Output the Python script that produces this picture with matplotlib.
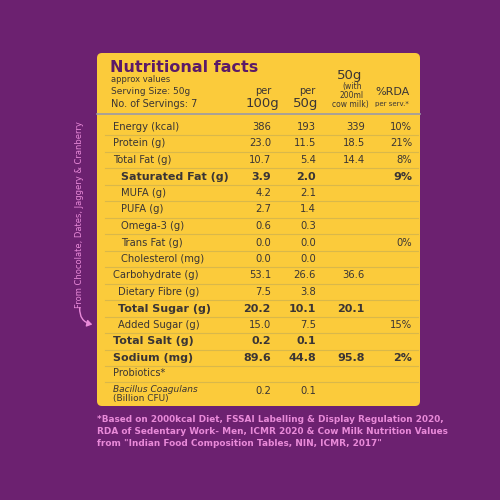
import matplotlib
matplotlib.use("Agg")
import matplotlib.pyplot as plt
from matplotlib.patches import FancyBboxPatch, FancyArrowPatch

labels = ["Energy (kcal)", "Protein (g)", "Total Fat (g)", "Saturated Fat (g)", "MUFA (g)",
          "PUFA (g)", "Omega-3 (g)", "Trans Fat (g)", "Cholesterol (mg)", "Carbohydrate (g)",
          "Dietary Fibre (g)", "Total Sugar (g)", "Added Sugar (g)", "Total Salt (g)", "Sodium (mg)"]
per100 = ["386", "23.0", "10.7", "3.9", "4.2", "2.7", "0.6", "0.0", "0.0", "53.1", "7.5", "20.2", "15.0", "0.2", "89.6"]
per50 = ["193", "11.5", "5.4", "2.0", "2.1", "1.4", "0.3", "0.0", "0.0", "26.6", "3.8", "10.1", "7.5", "0.1", "44.8"]
milk = ["339", "18.5", "14.4", "", "", "", "", "", "", "36.6", "", "20.1", "", "", "95.8"]
rda = ["10%", "21%", "8%", "9%", "", "", "", "0%", "", "", "", "", "15%", "", "2%"]
bold = [False, False, False, True, False, False, False, False, False, False, False, True, False, True, True]
indent = [0, 0, 0, 8, 8, 8, 8, 8, 8, 0, 5, 5, 5, 0, 0]

PURPLE = "#6C2170"
YELLOW = "#FBCB3B"
DARK = "#3A3535"
TITLE = "#5B1A68"
PINK = "#E98AD9"

fig = plt.figure(figsize=(5, 5), dpi=100)
fig.patch.set_facecolor(PURPLE)
ax = fig.add_axes([0, 0, 1, 1])
ax.set_xlim(0, 500); ax.set_ylim(500, 0); ax.axis("off")
ax.set_facecolor(PURPLE)
FF = "DejaVu Sans"

ax.add_patch(FancyBboxPatch((97, 53), 323, 353, boxstyle="round,pad=0,rounding_size=5",
                            fc=YELLOW, ec="none"))
ax.text(110, 68, "Nutritional facts", fontsize=11.5, fontweight="bold", color=TITLE, va="center", family=FF)
ax.text(111, 80, "approx values", fontsize=6, color=DARK, va="center", family=FF)
ax.text(111, 91, "Serving Size: 50g", fontsize=6.5, color=DARK, va="center", family=FF)
ax.text(111, 104, "No. of Servings: 7", fontsize=7, color=DARK, va="center", family=FF)
ax.text(263, 91, "per", fontsize=7, color=DARK, ha="center", va="center", family=FF)
ax.text(262, 104, "100g", fontsize=9.5, color=DARK, ha="center", va="center", family=FF)
ax.text(307, 91, "per", fontsize=7, color=DARK, ha="center", va="center", family=FF)
ax.text(306, 104, "50g", fontsize=9.5, color=DARK, ha="center", va="center", family=FF)
ax.text(350, 76, "50g", fontsize=9.5, color=DARK, ha="center", va="center", family=FF)
ax.text(352, 87, "(with", fontsize=5.5, color=DARK, ha="center", va="center", family=FF)
ax.text(352, 95.5, "200ml", fontsize=5.5, color=DARK, ha="center", va="center", family=FF)
ax.text(350, 104, "cow milk)", fontsize=5.5, color=DARK, ha="center", va="center", family=FF)
ax.text(392, 92, "%RDA", fontsize=8, color=DARK, ha="center", va="center", family=FF)
ax.text(392, 104, "per serv.*", fontsize=5, color=DARK, ha="center", va="center", family=FF)
ax.plot([97, 420], [114, 114], color="#9A9AA8", lw=1.2)

y0, dy = 127, 16.5
for i, lab in enumerate(labels):
    y = y0 + i * dy
    fw = "bold" if bold[i] else "normal"
    fs = 8 if bold[i] else 7.2
    ax.text(113 + indent[i], y, lab, fontsize=fs, fontweight=fw, color=DARK, va="center", family=FF)
    for x, col in ((271, per100), (316, per50), (365, milk), (412, rda)):
        ax.text(x, y, col[i], fontsize=fs, fontweight=fw, color=DARK, ha="right", va="center", family=FF)
    ax.plot([105, 418], [y + 8.2, y + 8.2], color="#D9B84A", lw=0.8)
yp = y0 + len(labels) * dy
ax.text(113, yp - 1, "Probiotics*", fontsize=7, color=DARK, va="center", family=FF)
ax.plot([105, 418], [yp + 7.5, yp + 7.5], color="#D9B84A", lw=0.8)
ax.text(113, yp + 15, "Bacillus Coagulans", fontsize=6.5, style="italic", color=DARK, va="center", family=FF)
ax.text(113, yp + 24, "(Billion CFU)", fontsize=6.5, color=DARK, va="center", family=FF)
ax.text(271, yp + 16, "0.2", fontsize=7.2, color=DARK, ha="right", va="center", family=FF)
ax.text(316, yp + 16, "0.1", fontsize=7.2, color=DARK, ha="right", va="center", family=FF)

foot = ['*Based on 2000kcal Diet, FSSAI Labelling & Display Regulation 2020,',
        'RDA of Sedentary Work- Men, ICMR 2020 & Cow Milk Nutrition Values',
        'from "Indian Food Composition Tables, NIN, ICMR, 2017"']
for k, t in enumerate(foot):
    ax.text(97, 419 + 12 * k, t, fontsize=6.4, fontweight="bold", color=PINK, va="center", family=FF)

ax.text(80, 215, "From Chocolate, Dates, Jaggery & Cranberry", rotation=90, fontsize=6,
        color=PINK, ha="center", va="center", family=FF)
ax.add_patch(FancyArrowPatch((80, 305), (95, 325), connectionstyle="arc3,rad=0.5",
                             arrowstyle="-|>,head_length=3,head_width=2", color=PINK, lw=1))

fig.savefig("out.png", dpi=100, facecolor=PURPLE)
